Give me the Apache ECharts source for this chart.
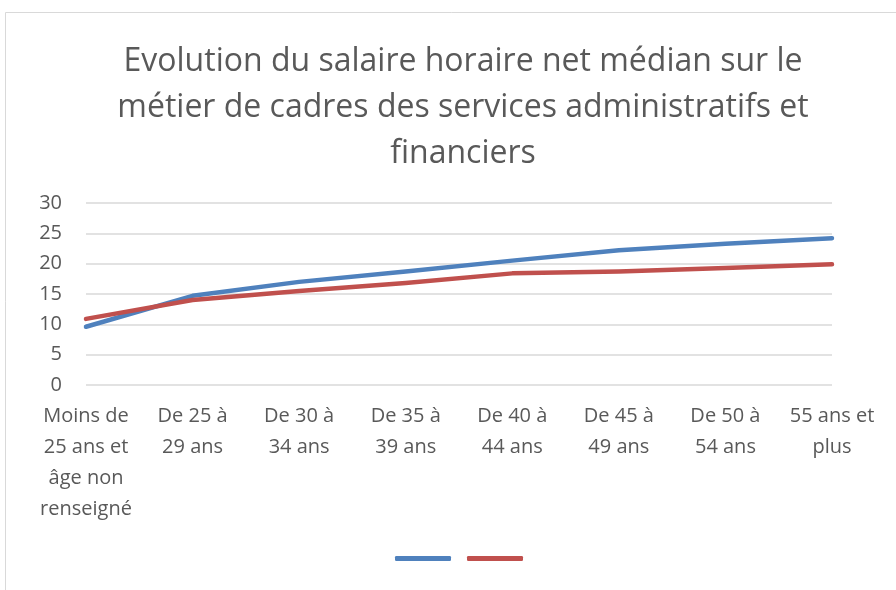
<!DOCTYPE html>
<html>
<head>
<meta charset="utf-8">
<script src="https://cdn.jsdelivr.net/npm/echarts@6/dist/echarts.min.js"></script>
<style>
  html, body { margin: 0; padding: 0; background: #fff; }
  #chart { width: 896px; height: 590px; }
</style>
</head>
<body>
<div id="chart"></div>
<script>
const categories = [
  'Moins de\n25 ans et\nâge non\nrenseigné',
  'De 25 à\n29 ans',
  'De 30 à\n34 ans',
  'De 35 à\n39 ans',
  'De 40 à\n44 ans',
  'De 45 à\n49 ans',
  'De 50 à\n54 ans',
  '55 ans et\nplus'
]
const serie1 = [9.6, 14.7, 17.0, 18.7, 20.5, 22.2, 23.3, 24.2]
const serie2 = [10.9, 14.0, 15.5, 16.8, 18.4, 18.7, 19.3, 19.9]
const yTicks = { min: 0, max: 30, interval: 5 }

const textColor = '#595959'
const chart = echarts.init(document.getElementById('chart'))

chart.setOption({
  backgroundColor: '#fff',
  animation: false,
  graphic: [{
    type: 'rect',
    shape: { x: 5.5, y: 12.5, width: 920, height: 620 },
    style: { fill: 'none', stroke: '#d9d9d9', lineWidth: 1 },
    silent: true
  }],
  title: {
    text: 'Evolution du salaire horaire net médian sur le\nmétier de cadres des services administratifs et\nfinanciers',
    left: 458,
    top: 34,
    textAlign: 'center',
    textStyle: {
      fontFamily: 'Open Sans',
      fontWeight: 'normal',
      fontSize: 32,
      lineHeight: 46,
      color: textColor
    }
  },
  legend: {
    bottom: 24,
    left: 390,
    icon: 'roundRect',
    itemWidth: 56,
    itemHeight: 5,
    itemGap: 16,
    formatter: () => '',
    data: ['Série1', 'Série2']
  },
  grid: { left: 86, right: 64, top: 203, bottom: 205, containLabel: false },
  xAxis: {
    type: 'category',
    data: categories,
    boundaryGap: false,
    axisLine: { show: false },
    axisTick: { show: false },
    axisLabel: {
      interval: 0,
      margin: 16,
      color: textColor,
      fontFamily: 'Open Sans',
      fontSize: 20,
      lineHeight: 31
    }
  },
  yAxis: {
    type: 'value',
    min: yTicks.min,
    max: yTicks.max,
    interval: yTicks.interval,
    axisLine: { show: false },
    axisTick: { show: false },
    splitLine: { lineStyle: { color: '#d9d9d9', width: 1.5 } },
    axisLabel: {
      margin: 24,
      color: textColor,
      fontFamily: 'Open Sans',
      fontSize: 20
    }
  },
  series: [{
    name: 'Série1',
    type: 'line',
    data: serie1,
    showSymbol: false,
    color: '#4f81bd',
    lineStyle: { width: 4.5, cap: 'round', join: 'round' }
  }, {
    name: 'Série2',
    type: 'line',
    data: serie2,
    showSymbol: false,
    color: '#c0504d',
    lineStyle: { width: 4.5, cap: 'round', join: 'round' }
  }]
})
</script>
</body>
</html>
